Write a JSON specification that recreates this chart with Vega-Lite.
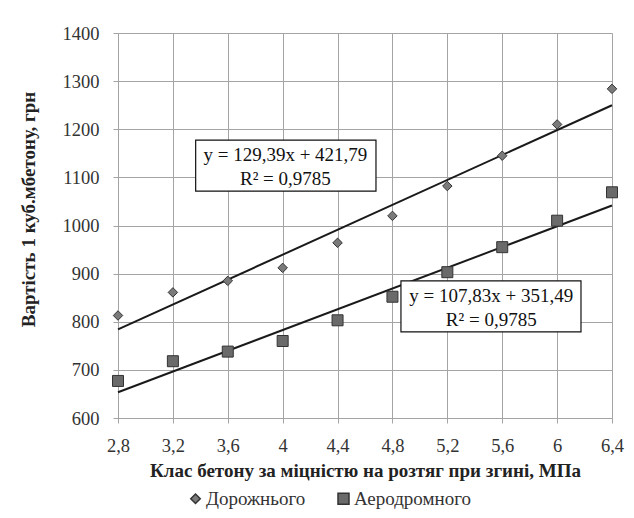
{
  "$schema": "https://vega.github.io/schema/vega-lite/v6.json",
  "width": 494,
  "height": 385,
  "autosize": {"type": "none"},
  "padding": {"left": 118, "top": 33, "right": 22, "bottom": 100},
  "background": "white",
  "config": {
    "font": "Liberation Serif",
    "view": {"stroke": null},
    "text": {"font": "Liberation Serif"},
    "axis": {
      "gridColor": "#a4a4a4",
      "gridWidth": 1,
      "domainColor": "#a4a4a4",
      "tickColor": "#a4a4a4",
      "tickSize": 5,
      "labelFlush": false,
      "labelFont": "Liberation Serif",
      "labelFontSize": 18.5,
      "labelColor": "#333333",
      "titleFont": "Liberation Serif",
      "titleFontSize": 19,
      "titleFontWeight": "bold",
      "titleColor": "#222222"
    },
    "legend": {"labelFont": "Liberation Serif"}
  },
  "datasets": {
    "points": [
      {"x": 2.8, "y": 813, "series": "Дорожнього"},
      {"x": 3.2, "y": 861, "series": "Дорожнього"},
      {"x": 3.6, "y": 885, "series": "Дорожнього"},
      {"x": 4.0, "y": 912, "series": "Дорожнього"},
      {"x": 4.4, "y": 964, "series": "Дорожнього"},
      {"x": 4.8, "y": 1020, "series": "Дорожнього"},
      {"x": 5.2, "y": 1082, "series": "Дорожнього"},
      {"x": 5.6, "y": 1145, "series": "Дорожнього"},
      {"x": 6.0, "y": 1210, "series": "Дорожнього"},
      {"x": 6.4, "y": 1284, "series": "Дорожнього"},
      {"x": 2.8, "y": 677, "series": "Аеродромного"},
      {"x": 3.2, "y": 718, "series": "Аеродромного"},
      {"x": 3.6, "y": 738, "series": "Аеродромного"},
      {"x": 4.0, "y": 760, "series": "Аеродромного"},
      {"x": 4.4, "y": 803, "series": "Аеродромного"},
      {"x": 4.8, "y": 852, "series": "Аеродромного"},
      {"x": 5.2, "y": 903, "series": "Аеродромного"},
      {"x": 5.6, "y": 955, "series": "Аеродромного"},
      {"x": 6.0, "y": 1010, "series": "Аеродромного"},
      {"x": 6.4, "y": 1069, "series": "Аеродромного"}
    ],
    "trend": [
      {"x": 2.8, "y": 784.08, "series": "Дорожнього"},
      {"x": 6.4, "y": 1249.89, "series": "Дорожнього"},
      {"x": 2.8, "y": 653.41, "series": "Аеродромного"},
      {"x": 6.4, "y": 1041.60, "series": "Аеродромного"}
    ],
    "boxes": [
      {"x1": 3.366, "x2": 4.68, "y1": 1071.5, "y2": 1177.5, "cx": 4.02, "l1y": 1147, "l2y": 1097, "line1": "y = 129,39x  + 421,79", "line2": "R² = 0,9785"},
      {"x1": 4.862, "x2": 6.174, "y1": 779, "y2": 885, "cx": 5.52, "l1y": 854, "l2y": 803, "line1": "y = 107,83x  + 351,49", "line2": "R² = 0,9785"}
    ]
  },
  "layer": [
    {
      "data": {"name": "trend"},
      "mark": {"type": "line", "color": "#1a1a1a", "strokeWidth": 2},
      "encoding": {
        "x": {
          "field": "x", "type": "quantitative",
          "scale": {"domain": [2.8, 6.4], "nice": false, "zero": false},
          "axis": {
            "values": [2.8, 3.2, 3.6, 4.0, 4.4, 4.8, 5.2, 5.6, 6.0, 6.4],
            "labelExpr": "replace(format(datum.value, '.1~f'), '.', ',')",
            "title": "Клас бетону за міцністю на розтяг при згині, МПа",
            "labelPadding": 13,
            "titlePadding": 7
          }
        },
        "y": {
          "field": "y", "type": "quantitative",
          "scale": {"domain": [600, 1400], "nice": false, "zero": false},
          "axis": {
            "values": [600, 700, 800, 900, 1000, 1100, 1200, 1300, 1400],
            "format": "d",
            "title": "Вартість 1 куб.мбетону, грн",
            "labelPadding": 14,
            "titleX": -80,
            "titleY": 176
          }
        },
        "detail": {"field": "series"}
      }
    },
    {
      "data": {"name": "points"},
      "mark": {"type": "point", "filled": true, "stroke": "#333333", "strokeWidth": 1, "opacity": 1},
      "encoding": {
        "x": {"field": "x", "type": "quantitative"},
        "y": {"field": "y", "type": "quantitative"},
        "color": {
          "field": "series", "type": "nominal",
          "scale": {"domain": ["Дорожнього", "Аеродромного"], "range": ["#7a7a7a", "#6a6a6a"]},
          "legend": {
            "title": null,
            "orient": "none",
            "direction": "horizontal",
            "legendX": 68,
            "legendY": 456,
            "labelFont": "Liberation Serif",
            "labelFontSize": 19,
            "labelColor": "#333333",
            "symbolSize": 30,
            "symbolStrokeColor": "#333333",
            "columnPadding": 28,
            "labelOffset": 1
          }
        },
        "shape": {
          "field": "series", "type": "nominal",
          "scale": {"domain": ["Дорожнього", "Аеродромного"], "range": ["diamond", "square"]}
        },
        "size": {
          "field": "series", "type": "nominal",
          "scale": {"domain": ["Дорожнього", "Аеродромного"], "range": [90, 121]},
          "legend": null
        }
      }
    },
    {
      "data": {"name": "boxes"},
      "mark": {"type": "rect", "fill": "white", "stroke": "#111111", "strokeWidth": 1.2},
      "encoding": {
        "x": {"field": "x1", "type": "quantitative"},
        "x2": {"field": "x2"},
        "y": {"field": "y1", "type": "quantitative"},
        "y2": {"field": "y2"}
      }
    },
    {
      "data": {"name": "boxes"},
      "mark": {"type": "text", "font": "Liberation Serif", "fontSize": 19, "color": "#111111", "align": "center", "baseline": "middle"},
      "encoding": {
        "x": {"field": "cx", "type": "quantitative"},
        "y": {"field": "l1y", "type": "quantitative"},
        "text": {"field": "line1"}
      }
    },
    {
      "data": {"name": "boxes"},
      "mark": {"type": "text", "font": "Liberation Serif", "fontSize": 19, "color": "#111111", "align": "center", "baseline": "middle"},
      "encoding": {
        "x": {"field": "cx", "type": "quantitative"},
        "y": {"field": "l2y", "type": "quantitative"},
        "text": {"field": "line2"}
      }
    }
  ]
}
